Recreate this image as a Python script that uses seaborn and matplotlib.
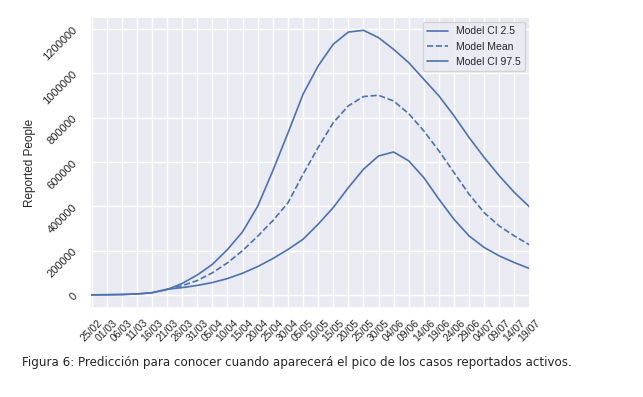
import numpy as np
import pandas as pd
import seaborn as sns
import matplotlib.pyplot as plt
from matplotlib.ticker import FuncFormatter

# Fechas (cada 5 dias) y valores
etiquetas = ["25/02", "01/03", "06/03", "11/03", "16/03", "21/03", "26/03", "31/03",
             "05/04", "10/04", "15/04", "20/04", "25/04", "30/04", "05/05", "10/05",
             "15/05", "20/05", "25/05", "30/05", "04/06", "09/06", "14/06", "19/06",
             "24/06", "29/06", "04/07", "09/07", "14/07", "19/07"]

ci_2_5 = [500, 1000, 2000, 4500, 10000, 26000, 33000, 43000, 56000, 74000,
          98000, 128000, 164000, 205000, 251000, 319000, 394000, 484000, 567000, 627000,
          645000, 605000, 529000, 432000, 341000, 266000, 214000, 176000, 146000, 119000]

media = [np.nan, np.nan, np.nan, np.nan, np.nan, 25000, 42000, 65000, 100000, 145000,
         200000, 265000, 335000, 415000, 544000, 665000, 777000, 853000, 895000, 901000,
         875000, 818000, 740000, 650000, 552000, 454000, 371000, 311000, 266000, 226000]

ci_97_5 = [500, 1000, 2000, 4500, 10000, 24000, 52000, 90000, 138000, 205000,
           285000, 400000, 560000, 730000, 905000, 1033000, 1131000, 1186000, 1194000, 1161000,
           1108000, 1048000, 973000, 898000, 808000, 710000, 620000, 537000, 462000, 397000]

fechas = pd.to_datetime([e + "/2020" for e in etiquetas], format="%d/%m/%Y")

sns.set_theme(style="darkgrid")
plt.rcParams['font.family'] = ['Liberation Sans', 'DejaVu Sans']

fig = plt.figure(figsize=(6.43, 3.97), dpi=100)
ax = fig.add_axes([0.140, 0.224, 0.685, 0.733])

color = "#4c72b0"
sns.lineplot(x=fechas, y=ci_2_5, ax=ax, color=color, lw=1.2, label="Model CI 2.5")
sns.lineplot(x=fechas, y=media, ax=ax, color=color, lw=1.2, linestyle="--", label="Model Mean")
sns.lineplot(x=fechas, y=ci_97_5, ax=ax, color=color, lw=1.2, label="Model CI 97.5")

ax.set_xticks(fechas)
ax.set_xticklabels(etiquetas, rotation=45, fontsize=7.5)
ax.set_xlim(fechas[0] - pd.Timedelta(days=0.5), fechas[-1] + pd.Timedelta(days=0.3))
ax.set_yticks(range(0, 1200001, 200000))
ax.yaxis.set_major_formatter(FuncFormatter(lambda v, p: f"{int(v)}"))
plt.setp(ax.get_yticklabels(), rotation=45, fontsize=8)
ax.tick_params(axis="x", pad=1)
ax.tick_params(axis="y", pad=2)
ax.set_xlabel("")
ax.set_ylabel("Reported People", fontsize=8.5)
ax.legend(loc="upper right", fontsize=7.5)

fig.text(0.034, 0.088, "Figura 6: Predicción para conocer cuando aparecerá el pico de los casos reportados activos.",
         fontsize=8.6, family="DejaVu Sans", va="center")

fig.savefig("out.png", dpi=100, facecolor="white")
